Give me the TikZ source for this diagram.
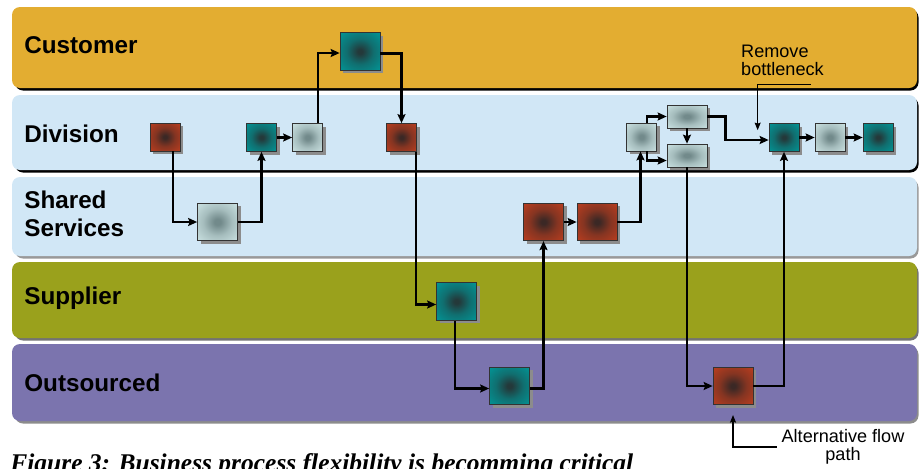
\documentclass[tikz,border=0pt]{standalone}
\usepackage{fontspec}
\setmainfont{Liberation Sans}
\newfontfamily\capfont{Liberation Serif}
\usetikzlibrary{positioning,calc,arrows.meta,shadows}

\definecolor{custcol}{HTML}{E3AD31}
\definecolor{divcol}{HTML}{D1E7F6}
\definecolor{supcol}{HTML}{9AA11C}
\definecolor{outcol}{HTML}{7B74AE}
\definecolor{tealout}{HTML}{009A9B}
\definecolor{tealin}{HTML}{24393A}
\definecolor{redout}{HTML}{C23F1F}
\definecolor{redin}{HTML}{3B2825}
\definecolor{lightout}{HTML}{D0E7E7}
\definecolor{lightin}{HTML}{728A8B}

\pgfdeclareradialshading{tealshade}{\pgfpoint{0bp}{0bp}}{color(0bp)=(tealin); color(3bp)=(tealin); color(17bp)=(tealout!55!tealin); color(38bp)=(tealout); color(75bp)=(tealout)}
\pgfdeclareradialshading{redshade}{\pgfpoint{0bp}{0bp}}{color(0bp)=(redin); color(3bp)=(redin); color(17bp)=(redout!55!redin); color(38bp)=(redout); color(75bp)=(redout)}
\pgfdeclareradialshading{lightshade}{\pgfpoint{0bp}{0bp}}{color(0bp)=(lightin); color(4bp)=(lightin); color(18bp)=(lightout!55!lightin); color(38bp)=(lightout); color(75bp)=(lightout)}

\begin{document}
\begin{tikzpicture}[x=0.2mm,y=-0.2mm,
    box/.style={rectangle, draw=black!80, line width=0.4pt, inner sep=0pt,
        drop shadow={shadow xshift=0.6mm, shadow yshift=-0.6mm, fill=black!45, opacity=1}},
    tealbox/.style={box, shade, shading=tealshade},
    redbox/.style={box, shade, shading=redshade},
    lightbox/.style={box, shade, shading=lightshade},
    small/.style={minimum width=6mm, minimum height=5.6mm},
    big/.style={minimum width=8mm, minimum height=7.5mm},
    wide/.style={minimum width=8mm, minimum height=4.6mm},
    flow/.style={line width=1.4pt, -{Stealth[length=1.8mm, width=1.6mm, inset=0.3mm]}},
    note/.style={line width=0.6pt, -{Stealth[length=1.5mm, width=1.2mm, inset=0.2mm]}},
    lanelabel/.style={anchor=west, inner sep=0pt, align=left,
        font=\fontsize{13.8pt}{16pt}\selectfont\bfseries},
    remark/.style={font=\fontsize{10.3pt}{10.3pt}\selectfont}
]
    \useasboundingbox (0,0) rectangle (922,468);

    % Lanes
    \foreach \top/\bot/\col/\shd in {7/88/custcol/black, 95/170/divcol/black,
        177/256/divcol/black!40, 262/338/supcol/black!55, 344/421/outcol/black!45} {
        \fill[fill=\shd, rounded corners=1.6mm] (15,\top+2.5) rectangle (918.5,\bot+2.5);
        \fill[fill=\col, rounded corners=1.6mm] (12,\top) rectangle (917,\bot);
    }
    \node[lanelabel] (lcust) at (24,45) {Customer};
    \node[lanelabel] (ldiv) at (24,134) {Division};
    \node[lanelabel] (lshared) at (24,214) {Shared\\Services};
    \node[lanelabel] (lsup) at (24,298) {Supplier};
    \node[lanelabel] (lout) at (24,383) {Outsourced};

    % Steps
    \node[redbox, small] (D1) at (165,137) {};
    \node[tealbox, small] (D2) at (261.5,137.5) {};
    \node[lightbox, small] (D3) at (307.5,137.5) {};
    \node[redbox, small] (D4) at (401.5,137.5) {};
    \node[tealbox, big] (C1) at (360,51.5) {};
    \node[lightbox, big] (S1) at (217.5,222) {};
    \node[redbox, big] (S2) at (543.5,222) {};
    \node[redbox, big] (S3) at (597,222) {};
    \node[tealbox, big] (P1) at (456.5,301.5) {};
    \node[tealbox, big] (O1) at (509.5,386) {};
    \node[redbox, big] (O2) at (733,386) {};
    \node[lightbox, small] (R1) at (641.5,137) {};
    \node[lightbox, wide] (R2) at (687,116.5) {};
    \node[lightbox, wide] (R3) at (687,155.5) {};
    \node[tealbox, small] (R4) at (784,137.5) {};
    \node[lightbox, small] (R5) at (830,137.5) {};
    \node[tealbox, small] (R6) at (878,137.5) {};

    % Flow
    \draw[flow] ([xshift=1.6mm]D1.south) |- (S1.west);
    \draw[flow] (S1.east) -| (D2.south);
    \draw[flow] (D2) -- (D3);
    \draw[flow] ([xshift=2.1mm]D3.north) |- ([yshift=-0.3mm]C1.west);
    \draw[flow] ([yshift=-0.4mm]C1.east) -| (D4.north);
    \draw[flow] ([xshift=-0.2mm]D4.south east) |- ([yshift=-0.6mm]P1.west);
    \draw[flow] ([xshift=-0.3mm]P1.south) |- ([yshift=-0.5mm]O1.west);
    \draw[flow] ([yshift=-0.5mm]O1.east) -| (S2.south);
    \draw[flow] (S2) -- (S3);
    \draw[flow] (S3.east) -| ([xshift=-0.2mm]R1.south);
    \draw[flow] ([xshift=1.1mm]R1.north) |- (R2.west);
    \draw[flow] ([xshift=1.1mm]R1.south) |- ([yshift=-1mm]R3.west);
    \draw[flow] (R2) -- (R3);
    \draw[flow] (R2.east) -- ++(3.6mm,0) |- ([yshift=-0.5mm]R4.west);
    \draw[flow] (R4) -- (R5);
    \draw[flow] (R5) -- (R6);
    \draw[flow] (R3.south) |- (O2.west);
    \draw[flow] (O2.east) -| (R4.south);

    % Remarks
    \node[remark, align=left, anchor=west] (bn) at (735,60) {Remove\\bottleneck};
    \draw[note] ($(bn.south east)+(-3.8mm,-0.6mm)$) -| ([xshift=-2.2mm,yshift=-1.4mm]R4.north west);
    \node[remark, align=center] (af) at (843,447) {Alternative flow\\path};
    \draw[note] ([xshift=0.3mm]af.west) -| ([yshift=-2mm]O2.south);

    % Caption
    \node[anchor=base west, inner sep=0pt, font=\capfont\fontsize{14.5pt}{16pt}\selectfont\bfseries\itshape]
        (cap) at (10,471) {Figure 3: Business process flexibility is becomming critical};
\end{tikzpicture}
\end{document}
